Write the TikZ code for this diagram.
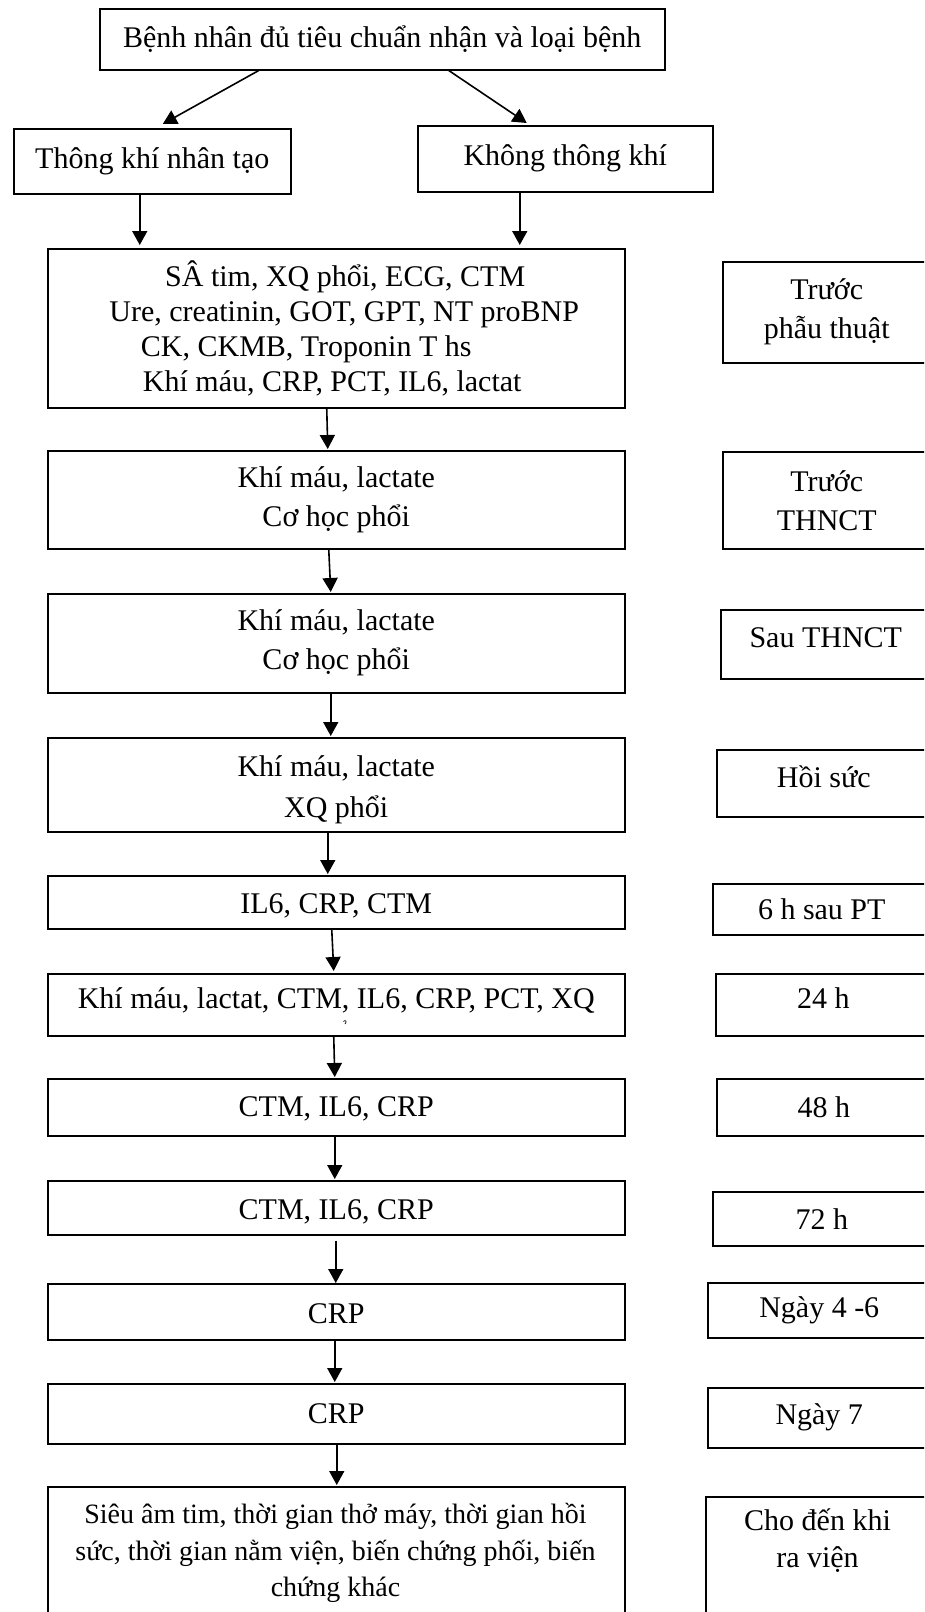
\documentclass[tikz,border=0pt]{standalone}
\usepackage{fontspec}
\setmainfont{Liberation Serif}
\usetikzlibrary{arrows.meta}
\newcommand{\shiftt}[2]{\raisebox{#1}[\height][\depth]{#2}}
\tikzset{
  bx/.style={draw, line width=1.5pt, rectangle, align=center, inner sep=0pt, anchor=north west,
    font=\fontsize{30}{35}\selectfont},
  two/.style={font=\fontsize{30}{39}\selectfont},
  txt/.style={align=center, inner sep=0pt, font=\fontsize{28}{36.5}\selectfont},
  arr/.style={-{Triangle[length=14pt,width=15pt]}, line width=1.6pt},
}
\begin{document}
\begin{tikzpicture}[x=1pt,y=-1pt]
\useasboundingbox (0,0) rectangle (924,1612);
\fill[white] (0,0) rectangle (924,1612);
\clip (0,0) rectangle (924,1612);

% top part
\node[bx, minimum width=565pt, minimum height=61pt] (top) at (99,8) {Bệnh nhân đủ tiêu chuẩn nhận và loại bệnh};
\node[bx, minimum width=277pt, minimum height=65pt] (th) at (13,128) {Thông khí nhân tạo};
\node[bx, minimum width=295pt, minimum height=66pt] (kh) at (417,125) {Không thông khí};

% left column
\node[bx, minimum width=577pt, minimum height=159pt] (b1) at (47,248)
  {\rule{18pt}{0pt}SÂ tim, XQ phổi, ECG, CTM\\
   \rule{16pt}{0pt}Ure, creatinin, GOT, GPT, NT proBNP\\
   CK, CKMB, Troponin T hs\rule{60pt}{0pt}\\
   Khí máu, CRP, PCT, IL6, lactat\rule{8pt}{0pt}};
\node[bx, two, minimum width=577pt, minimum height=98pt] (b2) at (47,450) {Khí máu, lactate\\Cơ học phổi};
\node[bx, two, minimum width=577pt, minimum height=99pt] (b3) at (47,593) {Khí máu, lactate\\Cơ học phổi};
\node[bx, font=\fontsize{30}{41}\selectfont, minimum width=577pt, minimum height=94pt] (b4) at (47,737)
  {\shiftt{-4pt}{\begin{tabular}{@{}c@{}}Khí máu, lactate\\XQ phổi\end{tabular}}};
\node[bx, minimum width=577pt, minimum height=53pt] (b5) at (47,875) {\shiftt{-4pt}{IL6, CRP, CTM}};
\node[bx, minimum width=577pt, minimum height=62pt] (b6) at (47,973) {\shiftt{4pt}{Khí máu, lactat, CTM, IL6, CRP, PCT, XQ}};
\node[bx, minimum width=577pt, minimum height=57pt] (b7) at (47,1078) {\shiftt{-2pt}{CTM, IL6, CRP}};
\node[bx, minimum width=577pt, minimum height=54pt] (b8) at (47,1180) {\shiftt{-4pt}{CTM, IL6, CRP}};
\node[bx, minimum width=577pt, minimum height=56pt] (b9) at (47,1283) {\shiftt{-2pt}{CRP}};
\node[bx, minimum width=577pt, minimum height=60pt] (b10) at (47,1383) {CRP};
\node[bx, minimum width=577pt, minimum height=160pt] (b11) at (47,1486) {};
\node[txt] (b11t) at (335.5,1553) {Siêu âm tim, thời gian thở máy, thời gian hồi\\
  sức, thời gian nằm viện, biến chứng phối, biến\\
  chứng khác};

% tiny clipped mark under the 24 h row text
\draw[line width=0.7pt] (343.5,1021.5) .. controls (345,1019.5) and (347.5,1021) .. (345,1024);

% right column
\node[bx, two, minimum width=208pt, minimum height=101pt] (r1) at (722,261) {Trước\\phẫu thuật};
\node[bx, two, minimum width=208pt, minimum height=97pt] (r2) at (722,451) {Trước\\THNCT};
\node[bx, minimum width=210pt, minimum height=69pt] (r3) at (720,609) {\shiftt{7pt}{Sau THNCT}};
\node[bx, minimum width=214pt, minimum height=67pt] (r4) at (716,749) {\shiftt{6pt}{Hồi sức}};
\node[bx, minimum width=218pt, minimum height=51pt] (r5) at (712,883) {6 h sau PT};
\node[bx, minimum width=215pt, minimum height=62pt] (r6) at (715,973) {\shiftt{7pt}{24 h}};
\node[bx, minimum width=214pt, minimum height=57pt] (r7) at (716,1078) {48 h};
\node[bx, minimum width=218pt, minimum height=54pt] (r8) at (712,1191) {72 h};
\node[bx, minimum width=223pt, minimum height=55pt] (r9) at (707,1282) {Ngày 4 -6};
\node[bx, minimum width=223pt, minimum height=60pt] (r10) at (707,1387) {Ngày 7};
\node[bx, minimum width=225pt, minimum height=160pt] (r11) at (705,1496) {};
\node[txt, font=\fontsize{30}{37}\selectfont] (r11t) at (817.5,1541) {Cho đến khi\\ra viện};

% connectors
\draw[arr] ([xshift=-123.5pt]top.south) -- ([xshift=10.5pt,yshift=4pt]th.north);
\draw[arr] ([xshift=66.5pt]top.south) -- ([xshift=-38.5pt,yshift=2pt]kh.north);
\draw[arr] ([xshift=-12.5pt]th.south) -- ([xshift=-196.5pt,yshift=3pt]b1.north);
\draw[arr] ([xshift=-45.5pt]kh.south) -- ([xshift=183.5pt,yshift=3pt]b1.north);
\draw[arr] ([xshift=-9.5pt]b1.south) -- ([xshift=-8.5pt,yshift=1pt]b2.north);
\draw[arr] ([xshift=-7.5pt]b2.south) -- ([xshift=-5.5pt,yshift=1pt]b3.north);
\draw[arr] ([xshift=-5.5pt]b3.south) -- ([xshift=-5.5pt,yshift=1pt]b4.north);
\draw[arr] ([xshift=-8.5pt]b4.south) -- ([xshift=-8.5pt,yshift=1pt]b5.north);
\draw[arr] ([xshift=-4.5pt]b5.south) -- ([xshift=-2.5pt,yshift=2pt]b6.north);
\draw[arr] ([xshift=-2.5pt]b6.south) -- ([xshift=-1.5pt,yshift=1pt]b7.north);
\draw[arr] ([xshift=-1.5pt]b7.south) -- ([xshift=-1.5pt,yshift=1pt]b8.north);
\draw[arr] ([xshift=-0.5pt,yshift=-5pt]b8.south) -- ([xshift=-0.5pt,yshift=0pt]b9.north);
\draw[arr] ([xshift=-1.5pt]b9.south) -- ([xshift=-1.5pt,yshift=1pt]b10.north);
\draw[arr] ([xshift=0.5pt]b10.south) -- ([xshift=0.5pt,yshift=1pt]b11.north);
\end{tikzpicture}
\end{document}
